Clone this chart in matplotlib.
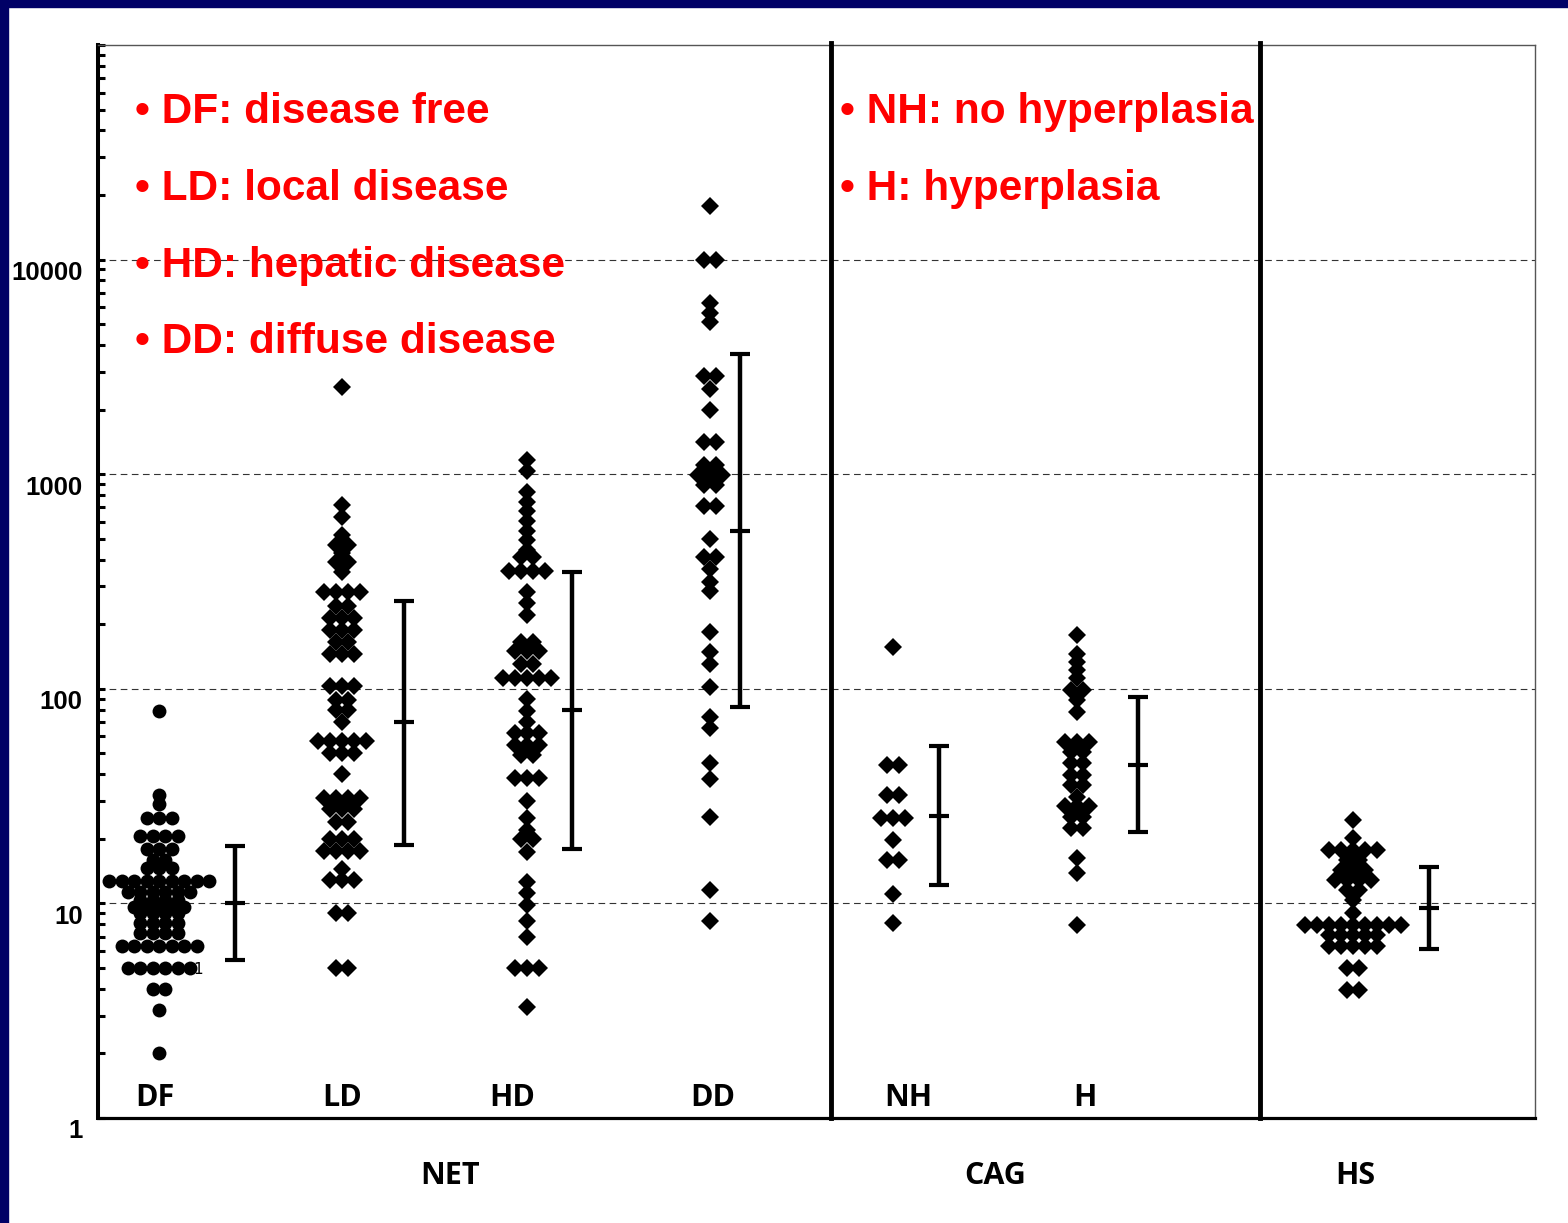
import numpy as np
import matplotlib.pyplot as plt
import matplotlib.transforms as mtransforms
from matplotlib.patches import Rectangle
from matplotlib.ticker import LogLocator, NullFormatter

# values: each level and how many dots sit on it
df_levels = [79, 32, 29, 25, 20.5, 18, 16, 14.6, 12.7, 11.3, 10.4, 9.6, 9.0, 8.1, 7.3, 6.3, 5.0, 4.0, 3.2, 2.0]
df_counts = [1, 1, 1, 3, 4, 3, 2, 3, 9, 6, 4, 5, 4, 4, 4, 7, 6, 2, 1, 1]

ld_levels = [2550, 720, 634, 522, 470, 431, 389, 349, 282, 243, 214, 188, 166, 146, 103, 89, 80, 70,
             57, 50, 40, 31, 27.6, 24, 20, 17.6, 14.5, 12.8, 9.0, 5.0]
ld_counts = [1, 1, 1, 1, 2, 1, 2, 1, 4, 2, 3, 3, 2, 3, 3, 2, 2, 1,
             5, 3, 1, 4, 3, 2, 3, 4, 1, 3, 2, 2]

hd_levels = [1169, 1033, 824, 743, 671, 606, 546, 493, 445, 410, 355, 283, 250, 221, 166, 150, 130, 112,
             90, 79, 70, 62, 54.5, 49, 38.5, 30, 25, 22, 20, 17.3, 12.6, 11.2, 9.8, 8.3, 7.0, 5.0, 3.3]
hd_counts = [1, 1, 1, 1, 1, 1, 1, 1, 1, 2, 4, 1, 1, 1, 2, 3, 2, 5,
             1, 1, 1, 3, 3, 2, 3, 1, 1, 1, 2, 1, 1, 1, 1, 1, 1, 3, 1]

dd_levels = [17700, 10000, 6300, 5650, 5100, 2870, 2500, 2000, 1420, 1100, 990, 890, 710, 500, 410, 360,
             316, 285, 183, 148, 130, 102, 74, 66, 45, 38, 25.4, 11.6, 8.3]
dd_counts = [1, 2, 1, 1, 1, 2, 1, 1, 2, 2, 3, 2, 2, 1, 2, 1,
             1, 1, 1, 1, 1, 1, 1, 1, 1, 1, 1, 1, 1]

nh_levels = [157, 44, 32, 25, 19.7, 15.9, 11.1, 8.1]
nh_counts = [1, 2, 2, 3, 1, 2, 1, 1]

h_levels = [178, 146, 134, 122, 112, 99, 89, 78, 56.6, 51, 45, 39.6, 35.6, 31.4, 28.3, 25.4, 22.4, 16.2, 13.8, 7.9]
h_counts = [1, 1, 1, 1, 1, 2, 1, 1, 3, 2, 2, 2, 2, 1, 3, 2, 2, 1, 1, 1]

hs_levels = [24.5, 20.1, 17.7, 15.9, 14.3, 12.9, 11.5, 10.4, 9.0, 7.9, 7.1, 6.3, 5.0, 3.95]
hs_counts = [1, 1, 5, 2, 3, 4, 2, 1, 1, 9, 5, 5, 2, 2]

group_names = ["DF", "LD", "HD", "DD", "NH", "H", "HS"]
bar_mean = [10.0, 70, 80, 543, 25.5, 44, 9.5]
bar_low = [5.45, 18.7, 17.9, 82, 12.2, 21.5, 6.1]
bar_high = [18.5, 257, 350, 3630, 54, 92, 14.8]

section_names = ["NET", "CAG", "HS"]
notes_left = ["• DF: disease free", "• LD: local disease", "• HD: hepatic disease", "• DD: diffuse disease"]
notes_right = ["• NH: no hyperplasia", "• H: hyperplasia"]

# layout
centers = [0.61, 2.44, 4.29, 6.12, 7.95, 9.79, 12.55]
bar_x = [1.37, 3.06, 4.74, 6.42, 8.41, 10.40, 13.31]
label_x = [0.57, 2.44, 4.14, 6.15, 8.10, 9.87]
dividers = [7.33, 11.62]
section_x = [3.52, 8.97, 12.57]

fig = plt.figure(figsize=(15.68, 12.23), dpi=100)
ax = fig.add_axes([98 / 1568, 105 / 1223, 1437 / 1568, 1073 / 1223])
ax.set_yscale("log")
ax.set_ylim(1, 1e5)
ax.set_xlim(0, 14.37)

for v in [10, 100, 1000, 10000]:
    ax.axhline(v, color="#333333", lw=0.8, dashes=(6, 4), zorder=1)

groups = [(df_levels, df_counts), (ld_levels, ld_counts), (hd_levels, hd_counts), (dd_levels, dd_counts),
          (nh_levels, nh_counts), (h_levels, h_counts), (hs_levels, hs_counts)]
for i, (levels, counts) in enumerate(groups):
    xs, ys = [], []
    step = 0.125 if i == 0 else 0.12
    for lev, n in zip(levels, counts):
        for k in range(n):
            xs.append(centers[i] + (k - (n - 1) / 2) * step)
            ys.append(lev)
    if i == 0:
        ax.plot(xs, ys, "o", color="black", ms=10, mew=0, zorder=4)
    else:
        ax.plot(xs, ys, "D", color="black", ms=9, mew=0, zorder=4)

for bx, m, lo, hi in zip(bar_x, bar_mean, bar_low, bar_high):
    ax.errorbar([bx], [m], yerr=[[m - lo], [hi - m]], fmt="_", color="black", ms=13.7, mew=3,
                elinewidth=3.2, capsize=6.85, capthick=3, zorder=4)

for d in dividers:
    ax.axvline(d, ymin=0, ymax=1.002, color="black", lw=3.5, zorder=3, clip_on=False)

ax.text(1.0, 4.9, "1", fontsize=11, ha="center", va="center", zorder=5)

# axis styling
ax.set_xticks([])
ax.set_yticks([1, 10, 100, 1000, 10000, 100000], labels=["1", "10", "100", "1000", "10000", ""])
ax.yaxis.set_minor_locator(LogLocator(base=10, subs=np.arange(2, 10)))
ax.yaxis.set_minor_formatter(NullFormatter())
ax.tick_params(axis="y", which="both", direction="in", length=5, width=2.2, pad=11)
for lab in ax.get_yticklabels():
    lab.set_fontfamily("Liberation Sans")
    lab.set_fontweight("bold")
    lab.set_fontsize(18.5)
offset = mtransforms.ScaledTranslation(0, -0.11, fig.dpi_scale_trans)
for lab in ax.get_yticklabels():
    lab.set_transform(lab.get_transform() + offset)

ax.spines["left"].set_linewidth(2.9)
ax.spines["bottom"].set_linewidth(2.3)
for s in ["top", "right"]:
    ax.spines[s].set_linewidth(1)
    ax.spines[s].set_color("#555555")

# texts
for name, x in zip(group_names[:6], label_x):
    ax.text(x, 0.011, name, transform=ax.get_xaxis_transform(), ha="center", va="baseline",
            fontsize=22, fontweight="bold", family="Open Sans", zorder=5)
for name, x in zip(section_names, section_x):
    ax.text(x, -0.0615, name, transform=ax.get_xaxis_transform(), ha="center", va="baseline",
            fontsize=22, fontweight="bold", family="Open Sans")

note_y = [0.9273, 0.8555, 0.7838, 0.7130]
for txt, y in zip(notes_left, note_y):
    ax.text(0.0257, y, txt, transform=ax.transAxes, color="#ff0000", fontsize=30.5, fontweight="bold",
            family="Liberation Sans", va="baseline", zorder=6)
for txt, y in zip(notes_right, note_y):
    ax.text(0.5164, y, txt, transform=ax.transAxes, color="#ff0000", fontsize=30.5, fontweight="bold",
            family="Liberation Sans", va="baseline", zorder=6)

# navy slide frame
fig.patches.append(Rectangle((0, 0), 8 / 1568, 1, transform=fig.transFigure, color="#000066", zorder=10))
fig.patches.append(Rectangle((0, 1 - 7 / 1223), 1, 7 / 1223, transform=fig.transFigure, color="#000066", zorder=10))

fig.savefig("out.png", dpi=100)
